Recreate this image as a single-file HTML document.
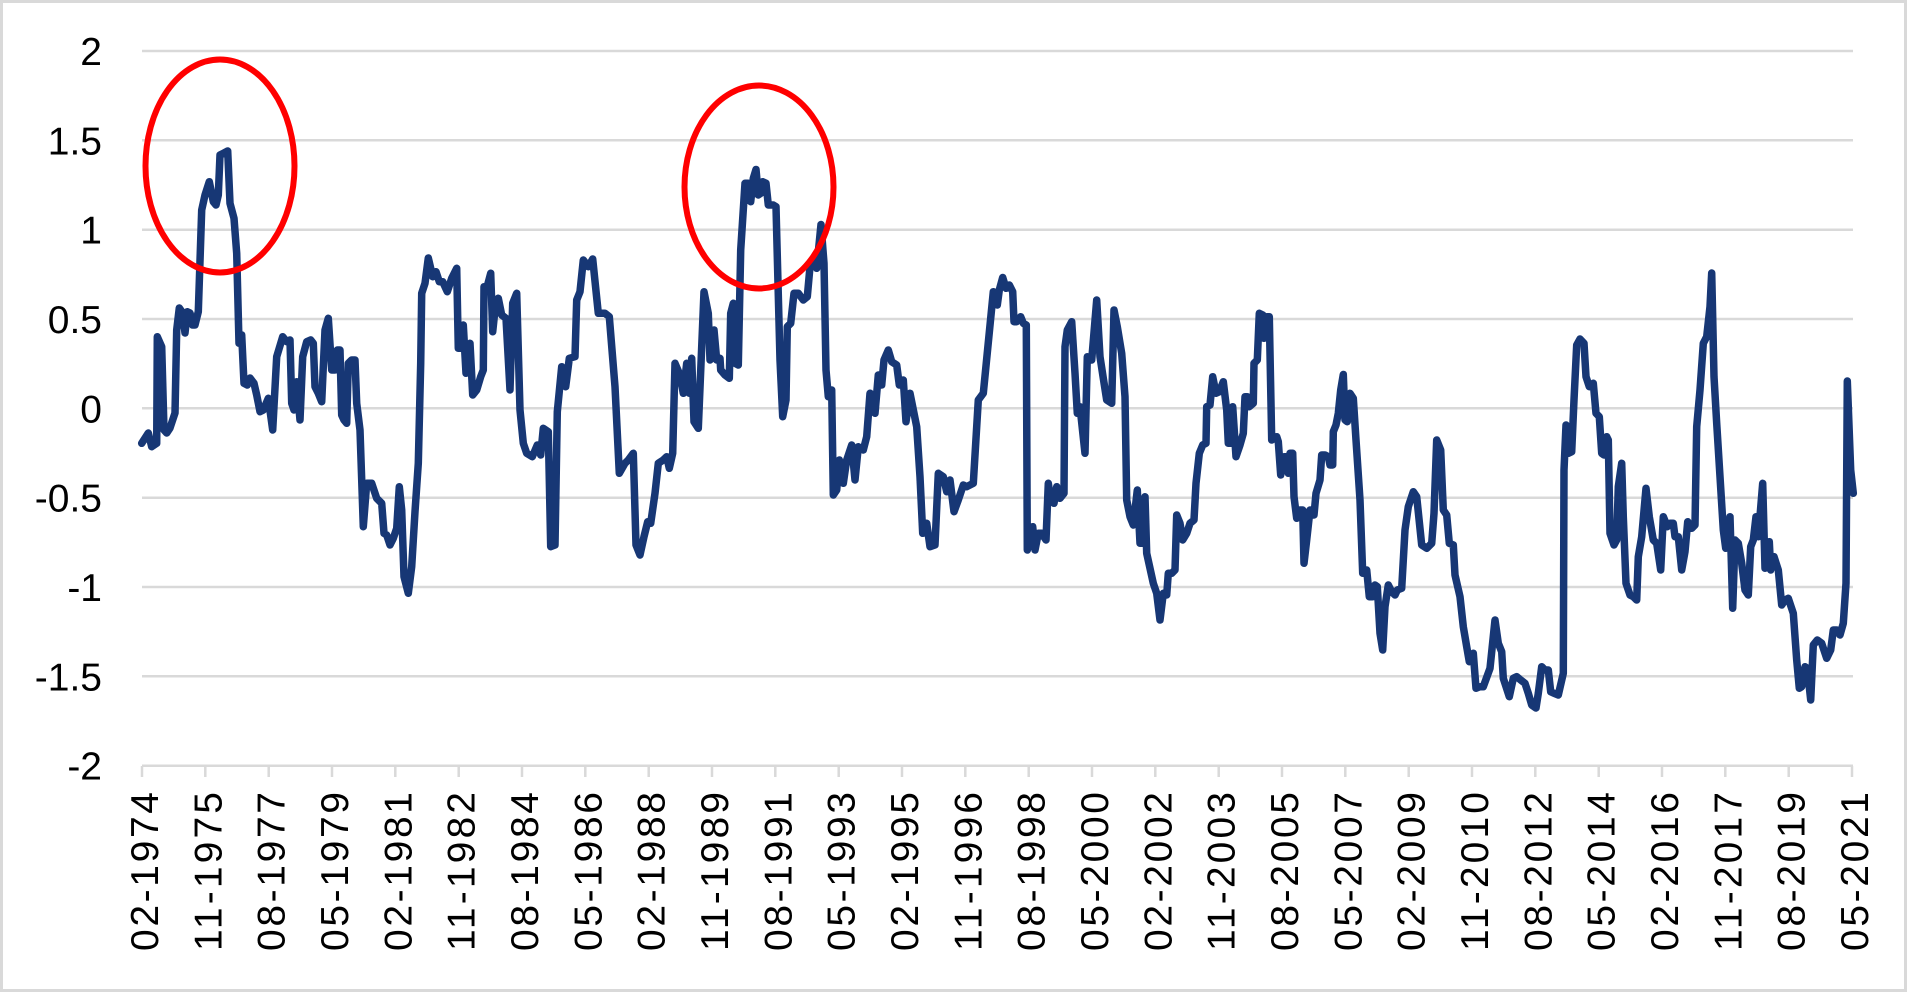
<!DOCTYPE html>
<html>
<head>
<meta charset="utf-8">
<style>
html,body{margin:0;padding:0;background:#fff;}
svg{display:block;}
text{font-family:"Liberation Sans",Arial,sans-serif;fill:#000;}
</style>
</head>
<body>
<svg width="1907" height="992" viewBox="0 0 1907 992" xmlns="http://www.w3.org/2000/svg">
<rect x="0" y="0" width="1907" height="992" fill="#fff"/>
<rect x="1.5" y="1.5" width="1904" height="989" fill="none" stroke="#d9d9d9" stroke-width="3"/>
<g stroke="#d9d9d9" stroke-width="2.5">
<line x1="142" y1="51" x2="1853" y2="51"/>
<line x1="142" y1="140.3" x2="1853" y2="140.3"/>
<line x1="142" y1="229.7" x2="1853" y2="229.7"/>
<line x1="142" y1="319" x2="1853" y2="319"/>
<line x1="142" y1="408.3" x2="1853" y2="408.3"/>
<line x1="142" y1="497.7" x2="1853" y2="497.7"/>
<line x1="142" y1="587" x2="1853" y2="587"/>
<line x1="142" y1="676.3" x2="1853" y2="676.3"/>
<line x1="142" y1="765.7" x2="1853" y2="765.7"/>
</g>
<g font-size="39" text-anchor="end">
<text x="102" y="65">2</text>
<text x="102" y="154.3">1.5</text>
<text x="102" y="243.7">1</text>
<text x="102" y="333">0.5</text>
<text x="102" y="422.3">0</text>
<text x="102" y="511.7">-0.5</text>
<text x="102" y="601">-1</text>
<text x="102" y="690.3">-1.5</text>
<text x="102" y="779.7">-2</text>
</g>
<polyline fill="none" stroke="#173775" stroke-width="7.5" stroke-linejoin="round" stroke-linecap="round" points="
141.7,443.3 148.3,433 151.7,446.7 156.7,443.3 157.3,336.7 161.7,346.7 164,430 166.7,433 170,428 175,413 176.7,330 179.3,308 182.7,313 185,333 187.3,311.7 190,313 192.7,325 195,325 198.3,311.7 201.7,210 205,195 209.3,181.7 213.3,201.7 216,205 218.3,195 220,155 223.3,153.3 227.7,151 230,203.3 234,218.3 236.7,253.3 239,343.3 241.7,335 244,383.3 247.3,385 250,378 254,383.3 256.7,395 260,411.7 263.3,410 268.3,398.3 272.7,430 276.7,356.7 282.7,336.7 286.7,341.7 290,340 291.7,403.3 294,410 296.7,381.7 300,420 302.7,356.7 306.7,341.7 310.7,340 313.3,343.3 315,386.7 318.3,393.3 321.7,401.7 325,330 328.3,318.3 331.7,370 335,370 337.3,350 340,350 341.7,415 344,420 346.7,423.3 348.3,363.3 351.7,360 355,360 356.7,403.3 360,430 363.3,526.7 366.7,483.3 371.7,483.3 376.7,498.3 381.7,503.3 384,533.3 386.7,535 390,545 393.3,538.3 396.7,528.3 399.3,486.7 401.7,510 404,576.7 408.3,593.3 411.7,566.7 415,511.7 418.3,463.3 420.7,363.3 421.7,293.3 425,283.3 428.3,258
432.7,276.7 436,271.7 439.3,281.7 442.7,281.7 447.3,291.7 451.7,278.3 456.7,268.3 458.3,348.3 461.7,348.3 463.3,325 466,373.3 470,343.3 472.7,395 476.7,390 480.7,376.7 483.3,370 484,286.7 486.7,288.3 490.7,273.3 492.7,331.7 496,300 498.3,298.3 501.7,315 506,318.3 510,390 512.7,303.3 516.7,293.3 520,410 523.3,443.3 526.7,453.3 532.3,456.7 537.3,445 540.7,455 543.3,428.3 548.3,431.7 550.7,546.7 555,545 557.3,411.7 561.7,366.7 565.7,386.7 569.3,358.3 575,356.7 576.7,300 580,291.7 583.3,260 588.3,266.7 592.7,259 598.3,313.3 605,313.3 609.3,316.7 615,386.7 619.3,473.3 625,463.3 628.3,460 633.3,453.3 636,545 640,555 644,536.7 647.7,521.7 650.7,523.3 655,493.3 658.3,463.3 663.3,460 666.7,456.7 669.3,468.3 672.7,453.3 675,363.3 680,375 683.3,393.3 686.7,363.3 689.3,393.3 691.7,358.3 694,421.7 698.3,428.3
704,291.7 708.3,313.3 710,360 714,330 716.7,360 720,358.3 720.7,370 725,375 729.3,378.3 730.7,313.3 733.3,303.3 735,363.3 738.3,365 740.7,250 745,183.3 748.3,183.3 750.7,201.7 753.3,178.3 756,169.5 758.3,195 760.7,193.3 762.7,181.7 766,183.3 768.3,205 773.3,205 776,206.7 780,360 782.7,416.7 786,400 787.3,326.7 790.7,323.3 794,293.3 798.3,293.3 803.3,300 807.3,296.7 810,266.7 814,263.3 816.7,268.3 821,224.5 824,263.3 826,370 828.3,396.7 831.7,390 833.3,495 836.7,490 839.3,460 843.3,483.3 846.7,460 851.7,445 855,480 858.3,446.7 863.3,450 866.7,436.7 870,393.3 875,413.3 878.3,375 881.7,385 884,360 888.3,350 891.7,361.7 896.7,365 899.3,385 903.3,380 906,421.7 910,393.3 916.7,426.7 920,476.7 922.7,533.3 926.7,523.3 930,546.7 935,545 938.3,473.3 943.3,476.7 946.7,491.7 950,480 954,511.7 958.3,500 963.3,485 966.7,486.7 973.3,483.3 978.3,400 983.3,393.3
993.3,291.7 997.3,305 999.3,290 1002.7,277.5 1006,288.3 1009.3,285 1012.7,291.7 1014,321.7 1016.7,321.7 1020.7,316.7 1023.3,323.3 1026.3,325 1027.3,550 1032.7,526.7 1035,550 1038.3,533.3 1041.7,533.3 1046,540 1048.3,483.3 1050.7,500 1054,503.3 1056.7,486.7 1060,498.3 1064,493.3 1065,346.7 1067.3,330 1071.7,321.7 1075,373.3 1077.3,413.3 1080,406.7 1085,453.3 1087.3,356.7 1091.7,360 1096.7,300 1100,356.7 1103.3,378.3 1106.7,400 1111.7,403.3 1114,310 1117.3,326.7 1121.7,353.3 1125,396.7 1126.7,500 1130,516.7 1133.3,525 1137.3,490 1140,543.3 1142.7,543.3 1145,496.7 1146.7,553.3 1153.3,583.3 1156.7,593.3 1160,620 1163.3,593.3 1166.7,595 1168.3,573.3 1171.7,573.3 1175,570 1176.7,515 1180,523.3 1182.7,540 1186.7,533.3 1190,523.3 1194,520 1196,483.3 1199.3,453.3 1202.7,445 1206,443.3 1206.7,406.7 1210,405 1212.7,376.7 1216,393.3 1219.3,391.7 1223.3,381.7 1226.7,410 1228.3,443.3 1230.7,443.3 1232.7,406.7 1236,456.7 1240,445 1243.3,433.3 1245,396.7 1247.3,396.7 1249.3,406.7 1253.3,403.3 1254,363.3 1257.3,360 1259.3,313.3 1262.7,315 1264,338.3 1266.7,316.7 1269.3,316.7 1271.7,440 1276.7,436.7 1278.3,441.7 1280.7,475 1284,456.7 1286.7,456.7 1288.3,473.3 1290,453.3
1292.7,453.3 1294,496.7 1296.7,518.3 1300,510 1302.7,510 1304,563.3 1306.7,540 1310,510 1314,515 1316,493.3 1320,480 1321.7,455 1325,455 1328.3,456.7 1330,465 1332.7,465 1333.3,431.7 1336,425 1338.3,413.3 1340.7,390 1343.3,374.5 1345,420 1347.3,421.7 1350,393.3 1353.3,398.3 1356,440 1360,500 1362.7,573.3 1366.7,570 1369.3,596.7 1372.7,596.7 1375,585 1377.3,586.7 1380,633.3 1382.7,650 1385,606.7 1388.3,585 1391.7,591.7 1395,595 1397.3,590 1401.7,588.3 1405,530 1408.3,506.7 1413.3,491.7 1416.7,496.7 1421.7,545 1426.7,548.3 1431.7,543.3 1434,513.3 1436.7,440 1440.7,450 1443.3,510 1446.7,515 1449.3,543.3 1453.3,545 1455,575 1460,596.7 1463.3,626.7 1466.7,646.7 1469.3,661.7 1473.3,653.3 1476,688.3 1480,686.7 1483.3,686.7 1490,668.3 1495,620 1498.3,643.3 1501.7,651.7 1503.3,678.3 1509.3,696.7 1513.3,678.3 1516.7,676.7 1520.7,680 1525,683.3 1528.3,693.3 1531.7,705 1536,708 1538.3,693.3 1541.7,666.7 1545,670 1548.3,670 1550.7,691.7 1554,693.3 1558.3,695
1563.3,673.3 1564,470 1566,425 1568.3,453.3 1571.7,451.7 1574,400 1576.7,345 1580,339 1584,343.3 1586,376.7 1589.3,386.7 1593.3,383.3 1596,413.3 1599.3,416.7 1601.7,453.3 1604,455 1606.7,436.7 1608.3,440 1610,533.3 1614,545 1616.7,540 1618.3,486.7 1621.7,463.3 1623.3,516.7 1626,583.3 1630,595 1633.3,596.7 1636.7,600 1638.3,556.7 1641.7,536.7 1646,488.3 1649.3,516.7 1653.3,540 1656.7,543.3 1660.7,570 1663.3,516.7 1667.3,526.7 1670,523.3 1673.3,523.3 1675,536.7 1678.3,536.7 1681.7,570 1685,551.7 1687.7,521.7 1691.7,528.3 1695,525 1696.7,426.7 1700,390 1703.3,343.3 1706.7,336.7 1710,306.7 1711.7,273 1714,376.7 1716.7,423.3 1720,476.7 1723.3,530 1725.7,548.3 1727.3,545 1730,516.7 1732.7,608.3 1735,540 1738.3,543.3 1741.7,563.3 1745,590 1748.3,595 1750.7,546.7 1753.3,540 1756,516.7 1758.3,536.7 1762.7,483.3 1765,568.3 1769.3,541.7 1770.7,570 1774,556.7 1778.3,570 1781.7,605 1785,600 1788.3,598.3 1793.3,613.3 1796.7,660 1799.3,688.3 1801.7,686.7 1805,666.7 1807.3,668.3 1810.7,700 1813.3,645 1817.3,640 1821.7,643.3 1826.7,658.3 1830.7,650 1833.3,630 1836.7,630 1840,635 1843.3,623.3 1846,583.3 1847.3,381 1850.7,470 1853.3,493.3"/>
<ellipse cx="220" cy="166" rx="74.5" ry="106.5" fill="none" stroke="#ff0000" stroke-width="6"/>
<ellipse cx="759" cy="187" rx="74.5" ry="101.5" fill="none" stroke="#ff0000" stroke-width="6"/>
<g stroke="#d9d9d9" stroke-width="2.5">
<line x1="142" y1="766" x2="142" y2="777"/><line x1="205.3" y1="766" x2="205.3" y2="777"/><line x1="268.7" y1="766" x2="268.7" y2="777"/><line x1="332" y1="766" x2="332" y2="777"/><line x1="395.3" y1="766" x2="395.3" y2="777"/><line x1="458.7" y1="766" x2="458.7" y2="777"/><line x1="522" y1="766" x2="522" y2="777"/><line x1="585.3" y1="766" x2="585.3" y2="777"/><line x1="648.7" y1="766" x2="648.7" y2="777"/><line x1="712" y1="766" x2="712" y2="777"/><line x1="775.3" y1="766" x2="775.3" y2="777"/><line x1="838.7" y1="766" x2="838.7" y2="777"/><line x1="902" y1="766" x2="902" y2="777"/><line x1="965.3" y1="766" x2="965.3" y2="777"/><line x1="1028.7" y1="766" x2="1028.7" y2="777"/><line x1="1092" y1="766" x2="1092" y2="777"/><line x1="1155.3" y1="766" x2="1155.3" y2="777"/><line x1="1218.7" y1="766" x2="1218.7" y2="777"/><line x1="1282" y1="766" x2="1282" y2="777"/><line x1="1345.3" y1="766" x2="1345.3" y2="777"/><line x1="1408.7" y1="766" x2="1408.7" y2="777"/><line x1="1472" y1="766" x2="1472" y2="777"/><line x1="1535.3" y1="766" x2="1535.3" y2="777"/><line x1="1598.7" y1="766" x2="1598.7" y2="777"/><line x1="1662" y1="766" x2="1662" y2="777"/><line x1="1725.3" y1="766" x2="1725.3" y2="777"/><line x1="1788.7" y1="766" x2="1788.7" y2="777"/><line x1="1852" y1="766" x2="1852" y2="777"/>
</g>
<g font-size="39" text-anchor="end">
<text transform="translate(158,792) rotate(-90)" textLength="159" lengthAdjust="spacing">02-1974</text>
<text transform="translate(221.3,792) rotate(-90)" textLength="159" lengthAdjust="spacing">11-1975</text>
<text transform="translate(284.7,792) rotate(-90)" textLength="159" lengthAdjust="spacing">08-1977</text>
<text transform="translate(348,792) rotate(-90)" textLength="159" lengthAdjust="spacing">05-1979</text>
<text transform="translate(411.3,792) rotate(-90)" textLength="159" lengthAdjust="spacing">02-1981</text>
<text transform="translate(474.7,792) rotate(-90)" textLength="159" lengthAdjust="spacing">11-1982</text>
<text transform="translate(538,792) rotate(-90)" textLength="159" lengthAdjust="spacing">08-1984</text>
<text transform="translate(601.3,792) rotate(-90)" textLength="159" lengthAdjust="spacing">05-1986</text>
<text transform="translate(664.7,792) rotate(-90)" textLength="159" lengthAdjust="spacing">02-1988</text>
<text transform="translate(728,792) rotate(-90)" textLength="159" lengthAdjust="spacing">11-1989</text>
<text transform="translate(791.3,792) rotate(-90)" textLength="159" lengthAdjust="spacing">08-1991</text>
<text transform="translate(854.7,792) rotate(-90)" textLength="159" lengthAdjust="spacing">05-1993</text>
<text transform="translate(918,792) rotate(-90)" textLength="159" lengthAdjust="spacing">02-1995</text>
<text transform="translate(981.3,792) rotate(-90)" textLength="159" lengthAdjust="spacing">11-1996</text>
<text transform="translate(1044.7,792) rotate(-90)" textLength="159" lengthAdjust="spacing">08-1998</text>
<text transform="translate(1108,792) rotate(-90)" textLength="159" lengthAdjust="spacing">05-2000</text>
<text transform="translate(1171.3,792) rotate(-90)" textLength="159" lengthAdjust="spacing">02-2002</text>
<text transform="translate(1234.7,792) rotate(-90)" textLength="159" lengthAdjust="spacing">11-2003</text>
<text transform="translate(1298,792) rotate(-90)" textLength="159" lengthAdjust="spacing">08-2005</text>
<text transform="translate(1361.3,792) rotate(-90)" textLength="159" lengthAdjust="spacing">05-2007</text>
<text transform="translate(1424.7,792) rotate(-90)" textLength="159" lengthAdjust="spacing">02-2009</text>
<text transform="translate(1488,792) rotate(-90)" textLength="159" lengthAdjust="spacing">11-2010</text>
<text transform="translate(1551.3,792) rotate(-90)" textLength="159" lengthAdjust="spacing">08-2012</text>
<text transform="translate(1614.7,792) rotate(-90)" textLength="159" lengthAdjust="spacing">05-2014</text>
<text transform="translate(1678,792) rotate(-90)" textLength="159" lengthAdjust="spacing">02-2016</text>
<text transform="translate(1741.3,792) rotate(-90)" textLength="159" lengthAdjust="spacing">11-2017</text>
<text transform="translate(1804.7,792) rotate(-90)" textLength="159" lengthAdjust="spacing">08-2019</text>
<text transform="translate(1868,792) rotate(-90)" textLength="159" lengthAdjust="spacing">05-2021</text>
</g>
</svg>
</body>
</html>
